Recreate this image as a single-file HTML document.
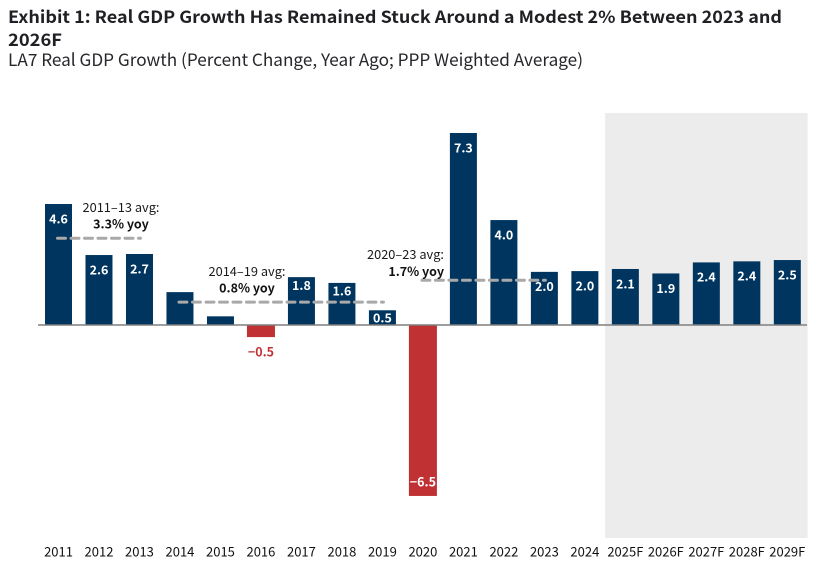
<!DOCTYPE html>
<html lang="en">
<head>
<meta charset="utf-8">
<title>Exhibit 1: Real GDP Growth</title>
<style>
html,body{margin:0;padding:0;background:#fff;width:839px;height:582px;overflow:hidden}
svg{display:block}
text{font-family:"Noto Sans CJK JP","Liberation Sans",sans-serif}
</style>
</head>
<body>
<svg id="chart" xmlns="http://www.w3.org/2000/svg" width="839" height="582" viewBox="0 0 839 582">
  <text x="8" y="23" font-size="17" font-weight="700" fill="#1f1f24" textLength="774" lengthAdjust="spacingAndGlyphs">Exhibit 1: Real GDP Growth Has Remained Stuck Around a Modest 2% Between 2023 and</text>
  <text x="8" y="46" font-size="17" font-weight="700" fill="#1f1f24" textLength="54" lengthAdjust="spacingAndGlyphs">2026F</text>
  <text x="8" y="66" font-size="17" fill="#26262b" textLength="575" lengthAdjust="spacingAndGlyphs">LA7 Real GDP Growth (Percent Change, Year Ago; PPP Weighted Average)</text>
  <g id="plot"></g>
</svg>
<script>
const categories = ["2011","2012","2013","2014","2015","2016","2017","2018","2019","2020","2021","2022","2023","2024","2025F","2026F","2027F","2028F","2029F"];
const gdpValues = [4.6,2.66,2.7,1.25,0.33,-0.46,1.82,1.6,0.56,-6.5,7.3,3.99,2.02,2.05,2.13,1.96,2.38,2.42,2.47];
const valueLabels = ["4.6","2.6","2.7",null,null,"-0.5","1.8","1.6","0.5","-6.5","7.3","4.0","2.0","2.0","2.1","1.9","2.4","2.4","2.5"];
const raisedLabelCategories = ["2017","2018"];
const forecastCategories = ["2025F","2026F","2027F","2028F","2029F"];
const avgStartCategories = ["2011","2014","2020"];
const avgEndCategories = ["2013","2019","2023"];
const avgValues = [3.3,0.87,1.7];
const avgTitles = ["2011\u201313 avg:","2014\u201319 avg:","2020\u201323 avg:"];
const avgTexts = ["3.3% yoy","0.8% yoy","1.7% yoy"];

const SVG_NS = "http://www.w3.org/2000/svg";
const plot = document.getElementById("plot");
const xStart = 58.5, xStep = 40.49, zeroY = 325, yScale = 26.3, barWidth = 27;
const x = function (cat) { return xStart + categories.indexOf(cat) * xStep; };
const y = function (v) { return zeroY - v * yScale; };

function make(tag, attrs, parent, text) {
  const el = document.createElementNS(SVG_NS, tag);
  for (const k in attrs) el.setAttribute(k, attrs[k]);
  if (text !== undefined) el.textContent = text;
  (parent || plot).appendChild(el);
  return el;
}

// forecast band
const bandLeft = x(forecastCategories[0]) - xStep / 2;
const bandRight = x(forecastCategories[forecastCategories.length - 1]) + xStep / 2;
const band = make("rect", {x: bandLeft, y: 113, width: bandRight - bandLeft, height: 425, fill: "#ececec"});



// bars
categories.forEach(function (cat, i) {
  const v = gdpValues[i];
  const top = Math.min(y(v), zeroY);
  const h = Math.abs(y(v) - zeroY);
  const w = v < 0 ? barWidth + 1 : barWidth;
  const bar = make("rect", {x: x(cat) - w / 2, y: top, width: w, height: h, fill: v < 0 ? "#bf3133" : "#00355f"});
  
  
});

// axis line
const axis = make("line", {x1: 38, x2: 807, y1: zeroY, y2: zeroY, stroke: "#7f7f7f", "stroke-width": 1.5});



// average lines and annotations
const annotationCenters = [121, 247, 405];
avgValues.forEach(function (v, i) {
  const line = make("line", {
    x1: x(avgStartCategories[i]) - 1, x2: x(avgEndCategories[i]) + 1,
    y1: y(v), y2: y(v),
    stroke: "#a9a9a9", "stroke-width": 3, "stroke-dasharray": "8 5.5", "stroke-linecap": "round"
  });
  
  
  const anchor = i === 2 ? "end" : "middle";
  const ax = i === 2 ? 444 : annotationCenters[i];
  const baseY = y(v);
  const t1 = make("text", {x: ax, y: i === 2 ? 259 : baseY - 26, "text-anchor": anchor, "font-size": 12.8, fill: "#1a1a1a"}, plot, avgTitles[i]);
  
  
  const t2 = make("text", {x: ax, y: i === 2 ? 276 : baseY - 9.5, "text-anchor": anchor, "font-size": 12.5, "font-weight": 700, fill: "#111"}, plot, avgTexts[i]);
  
  
});

// value labels
categories.forEach(function (cat, i) {
  const txt = valueLabels[i];
  if (txt === null) return;
  const v = gdpValues[i];
  let cy, fill = "#ffffff";
  if (v >= 0) {
    cy = raisedLabelCategories.indexOf(cat) >= 0 ? y(v) + 8.5 : Math.min(y(v) + 15, zeroY - 7);
  } else if (y(v) - zeroY < 30) {
    cy = y(v) + 15;
    fill = "#bf3133";
  } else {
    cy = y(v) - 14;
  }
  const label = make("text", {x: x(cat), y: cy + 4.3, "text-anchor": "middle", "font-size": 12.5, "font-weight": 700, fill: fill}, plot, txt.replace("-", "\u2212"));
  
  
});

// x tick labels
categories.forEach(function (cat) {
  const tick = make("text", {x: x(cat), y: 556.5, "text-anchor": "middle", "font-size": 13, fill: "#111"}, plot, cat);
  
  
});
</script>
</body>
</html>
